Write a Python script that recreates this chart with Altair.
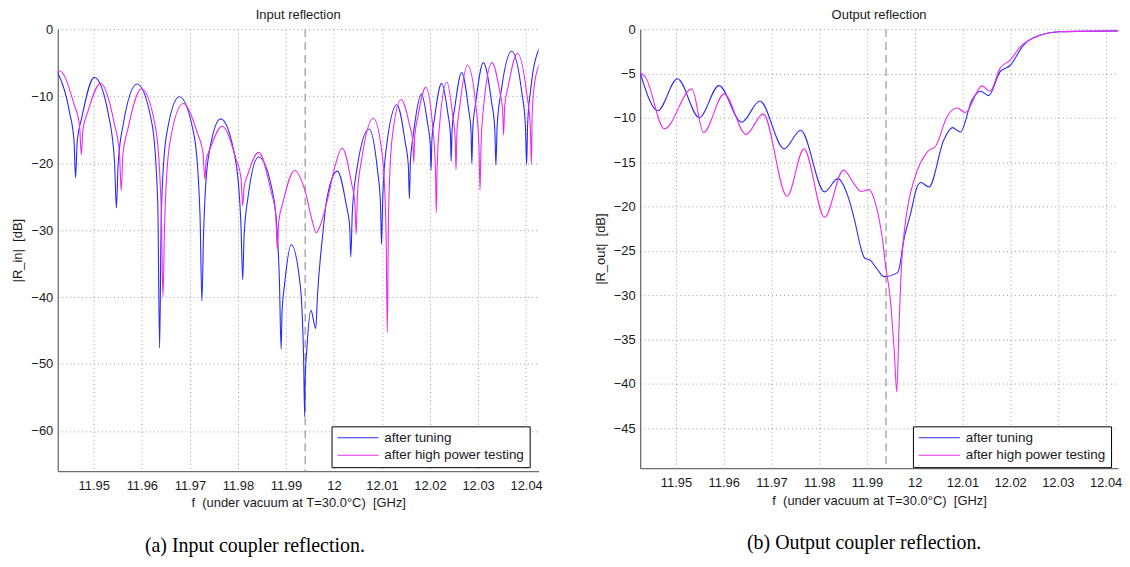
import altair as alt
import pandas as pd

series_names = ["after tuning", "after high power testing"]
series_colors = ["#2a2aff", "#ec2cec"]

# ---------- Input reflection (left) ----------
in_tuned_f = [11.9424, 11.94493, 11.94588, 11.9462, 11.94653, 11.9475, 11.9501, 11.95317, 11.95432, 11.9547,
              11.95506, 11.95613, 11.9590, 11.96213, 11.96331, 11.9637, 11.96404, 11.96507, 11.9678, 11.97093,
              11.97211, 11.9725, 11.97283, 11.9738, 11.9764, 11.97947, 11.98062, 11.9810, 11.98128, 11.9821,
              11.9843, 11.98743, 11.98861, 11.9890, 11.98918, 11.9897, 11.9911, 11.99297, 11.99367, 11.9939,
              11.99401, 11.99433, 11.9952, 11.9962, 11.99656, 11.9977, 11.9985, 12.0007, 12.00257, 12.00327,
              12.0035, 12.00382, 12.00477, 12.0073, 12.00903, 12.00968, 12.0099, 12.01017, 12.01097, 12.0131,
              12.01483, 12.01548, 12.0157, 12.01591, 12.01653, 12.0182, 12.01953, 12.02003, 12.0202, 12.02038,
              12.02093, 12.0224, 12.02373, 12.02423, 12.0244, 12.02458, 12.02513, 12.0266, 12.0280, 12.02853,
              12.0287, 12.0289, 12.0295, 12.0311, 12.03283, 12.03348, 12.0337, 12.03398, 12.0348, 12.0370,
              12.03907, 12.03984, 12.0401, 12.04032, 12.04097, 12.0427]
in_tuned_db = [-6.35, -12.35, -16.65, -22.2, -16.95, -13.2, -7.2, -13.2, -19.9, -26.7,
               -20.2, -14.2, -8.2, -14.2, -25.9, -47.6, -27.8, -16.1, -10.1, -16.1,
               -27.8, -40.6, -31.1, -19.4, -13.4, -19.4, -29.0, -37.4, -31.0, -25.1,
               -19.1, -25.1, -36.8, -47.8, -42.3, -38.2, -32.2, -38.2, -48.9, -57.9,
               -52.3, -48.0, -42.0, -44.7, -39.8, -30.4, -25.4, -21.2, -26.3, -29.5,
               -34.0, -27.3, -20.9, -14.9, -20.9, -26.1, -32.1, -24.8, -17.3, -11.3,
               -16.9, -20.4, -25.3, -19.8, -15.7, -9.7, -14.3, -17.1, -21.1, -16.6,
               -13.3, -8.1, -12.7, -15.6, -19.7, -15.1, -11.8, -6.5, -11.9, -15.3,
               -20.1, -14.8, -11.0, -5.0, -11.0, -14.9, -20.3, -14.3, -9.3, -3.3,
               -9.3, -14.3, -20.2, -14.1, -8.9, -2.9]

in_hpt_f = [11.9424, 11.9429, 11.9459, 11.94703, 11.9474, 11.94773, 11.94873, 11.9514, 11.95427, 11.95534,
            11.9557, 11.95605, 11.9571, 11.9599, 11.9629, 11.96403, 11.9644, 11.96475, 11.9658, 11.9686,
            11.9716, 11.97273, 11.9731, 11.9734, 11.9743, 11.9767, 11.97957, 11.98064, 11.9810, 11.98128,
            11.9821, 11.9843, 11.9869, 11.98788, 11.9882, 11.9885, 11.9894, 11.9918, 11.9940, 11.9954,
            11.9963, 11.9971, 11.9988, 12.0002, 12.0017, 12.00363, 12.00436, 12.0046, 12.0049, 12.0058,
            12.0082, 12.01013, 12.01086, 12.0111, 12.01134, 12.01207, 12.0140, 12.01573, 12.01638, 12.0166,
            12.01681, 12.01743, 12.0191, 12.02057, 12.02112, 12.0213, 12.02148, 12.02203, 12.0235, 12.02477,
            12.02524, 12.0254, 12.0256, 12.0262, 12.0278, 12.02953, 12.03018, 12.0304, 12.03061, 12.03123,
            12.0329, 12.0345, 12.0351, 12.0353, 12.03554, 12.03627, 12.0382, 12.04013, 12.04086, 12.0411,
            12.04125, 12.0416, 12.0427]
in_hpt_db = [-6.4, -6.25, -11.25, -14.35, -18.75, -15.0, -12.4, -8.1, -14.1, -18.5,
             -24.1, -18.8, -14.9, -8.9, -14.9, -26.6, -40.0, -28.8, -17.1, -11.1,
             -15.6, -18.4, -22.4, -19.6, -17.7, -14.5, -19.3, -22.2, -26.4, -23.6,
             -21.6, -18.4, -24.2, -27.8, -32.9, -28.8, -25.8, -21.1, -24.2, -28.4,
             -30.4, -29.4, -25.0, -20.5, -17.75, -22.9, -26.1, -30.6, -24.5, -19.3,
             -13.3, -19.3, -31.0, -45.3, -28.2, -16.5, -10.5, -14.3, -16.6, -19.9,
             -16.0, -13.2, -8.7, -14.7, -20.9, -27.4, -20.6, -13.9, -7.9, -13.2,
             -16.4, -21.0, -15.5, -11.4, -5.4, -11.4, -17.5, -24.0, -17.4, -11.0,
             -5.0, -9.3, -12.0, -15.8, -11.5, -8.5, -3.6, -9.6, -14.4, -20.2,
             -13.0, -9.0, -5.3]

# ---------- Output reflection (right) ----------
out_tuned_f = [11.9425, 11.94619, 11.9503, 11.95488, 11.9590, 11.96375, 11.96758, 11.97265, 11.97613, 11.98113,
               11.9839, 11.9860, 11.9874, 11.9888, 11.9895, 11.9908, 11.9922, 11.9936, 11.9964, 11.9971,
               11.9974, 11.9992, 12.0005, 12.0013, 12.0030, 12.0061, 12.0079, 12.0096, 12.0120, 12.0138,
               12.0155, 12.0179, 12.0200, 12.0228, 12.0263, 12.0304, 12.0426]
out_tuned_db = [-4.9, -9.2, -5.6, -9.97, -6.37, -10.5, -8.1, -13.5, -11.4, -18.35,
                -16.85, -18.8, -21.5, -24.8, -25.8, -26.1, -27.1, -27.9, -27.45, -26.0,
                -24.8, -20.7, -17.8, -17.3, -17.8, -12.5, -11.1, -11.6, -8.0, -7.0,
                -7.5, -4.8, -4.1, -1.8, -0.67, -0.3, -0.2]

out_hpt_f = [11.9425, 11.9436, 11.94758, 11.95333, 11.95577, 11.96008, 11.96467, 11.96827, 11.97327, 11.97681,
             11.98113, 11.98508, 11.9875, 11.98875, 11.9905, 11.99154, 11.99258, 11.99327, 11.99375, 11.9950,
             11.9958, 11.99625, 11.9967, 11.9972, 11.99779, 11.99883, 11.99988, 12.0027, 12.0044, 12.0068,
             12.0089, 12.0106, 12.0141, 12.0158, 12.0179, 12.0200, 12.0221, 12.0263, 12.0304, 12.0426]
out_hpt_db = [-4.9, -5.4, -11.24, -6.74, -11.65, -7.3, -11.87, -9.55, -18.84, -13.5,
              -21.2, -15.9, -17.6, -18.3, -18.1, -19.2, -21.5, -23.7, -26.0, -31.0,
              -37.0, -40.9, -34.0, -27.0, -23.0, -19.2, -17.0, -13.8, -13.2, -9.85,
              -8.9, -9.4, -6.4, -7.0, -4.4, -3.5, -2.0, -0.7, -0.3, -0.2]

marker_f = [11.9940]
x_ticks = [11.95, 11.96, 11.97, 11.98, 11.99, 12.00, 12.01, 12.02, 12.03, 12.04]
x_domain = [11.9425, 12.0426]
in_y_ticks = [-60, -50, -40, -30, -20, -10, 0]
out_y_ticks = [-45, -40, -35, -30, -25, -20, -15, -10, -5, 0]
panel_titles = ["Input reflection", "Output reflection"]
y_titles = ["|R_in|\u00a0\u00a0[dB]", "|R_out|\u00a0\u00a0[dB]"]
x_title = "f\u00a0\u00a0(under vacuum at T=30.0°C)\u00a0\u00a0[GHz]"
captions = ["(a) Input coupler reflection.", "(b) Output coupler reflection."]

FONT = "Liberation Sans"


def panel(tf, td, hf, hd, ydom, yticks, title, ytitle, caption, w, h, cap_x, leg_x, leg_y):
    df_t = pd.DataFrame({"f": tf, "db": td, "s": series_names[0]})
    df_h = pd.DataFrame({"f": hf, "db": hd, "s": series_names[1]})
    xscale = alt.Scale(domain=x_domain, nice=False, zero=False)
    yscale = alt.Scale(domain=ydom, nice=False, zero=False)
    xaxis = alt.Axis(values=x_ticks, format=".4~g", title=x_title, titleX=w / 2, titleY=32,
                     titleBaseline="middle", titleAnchor="middle", labelPadding=8)
    yaxis = alt.Axis(values=yticks, title=ytitle, titleX=-40, titleY=h / 2,
                     titleBaseline="middle", titleAnchor="middle", labelPadding=5)
    color = alt.Color("s:N", scale=alt.Scale(domain=series_names, range=series_colors),
                      legend=alt.Legend(title=None, orient="none", legendX=leg_x, legendY=leg_y))

    def line(df):
        return alt.Chart(df).mark_line(interpolate="monotone", strokeWidth=1.1, clip=True).encode(
            x=alt.X("f:Q", scale=xscale, axis=xaxis),
            y=alt.Y("db:Q", scale=yscale, axis=yaxis),
            color=color,
        )

    rule = alt.Chart(pd.DataFrame({"f": marker_f})).mark_rule(
        color="#8c8c8c", strokeDash=[8, 5], strokeWidth=1.1
    ).encode(x=alt.X("f:Q", scale=xscale))
    cap = alt.Chart(pd.DataFrame({"t": [caption]})).mark_text(
        font="Liberation Serif", fontSize=20, color="black", align="center", baseline="middle"
    ).encode(text="t:N", x=alt.value(cap_x), y=alt.value(h + 75))
    return alt.layer(rule, line(df_t), line(df_h), cap).properties(
        width=w, height=h,
        title=alt.TitleParams(title, font=FONT, fontSize=13, fontWeight="normal", color="#1a1a1a",
                              anchor="middle", baseline="alphabetic", offset=-9),
    )


left = panel(in_tuned_f, in_tuned_db, in_hpt_f, in_hpt_db, [-66, 0], in_y_ticks,
             panel_titles[0], y_titles[0], captions[0], 483, 444, 198, 275, 399)
right = panel(out_tuned_f, out_tuned_db, out_hpt_f, out_hpt_db, [-49.5, 0], out_y_ticks,
              panel_titles[1], y_titles[1], captions[1], 480, 441, 225, 274, 399)

chart = alt.hconcat(left, right, spacing=102, bounds="flush").resolve_scale(
    color="independent", x="independent", y="independent"
).properties(
    padding={"left": 4, "top": 0, "right": 0, "bottom": 0},
    background="white",
).configure_view(stroke=None).configure_axis(
    labelFont=FONT, labelFontSize=13, labelColor="#1a1a1a",
    titleFont=FONT, titleFontSize=13, titleFontWeight="normal", titleColor="#1a1a1a",
    domainColor="#6e6e6e", domainWidth=1.3, ticks=False,
    grid=True, gridColor="#9a9a9a", gridDash=[1, 3], gridWidth=1, gridOpacity=1,
).configure_legend(
    strokeColor="black", fillColor="white", padding=5, cornerRadius=0,
    labelFont=FONT, labelFontSize=13.5, labelColor="#1a1a1a", labelOffset=5,
    symbolType="stroke", symbolSize=1700, symbolStrokeWidth=1.1, rowPadding=3.5,
    clipHeight=13,
)

chart.save("out.html", embed_options={"renderer": "svg", "actions": False})
